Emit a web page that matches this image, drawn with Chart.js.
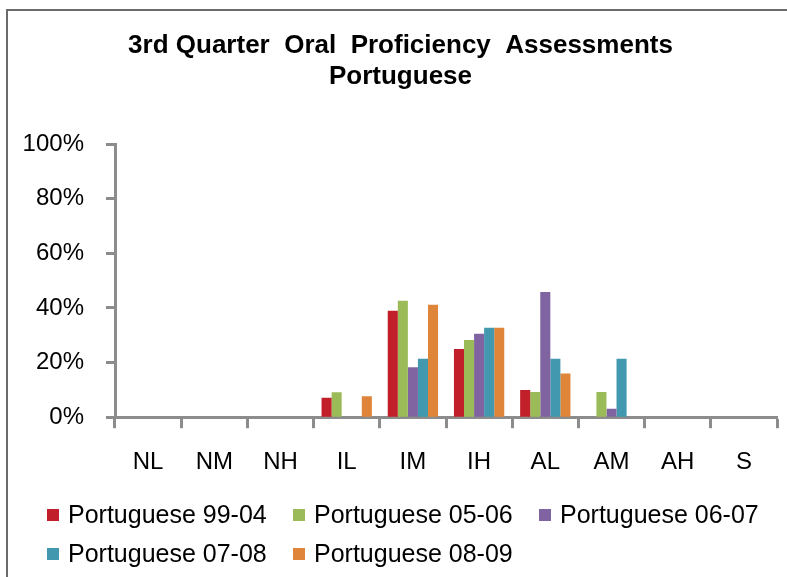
<!DOCTYPE html>
<html>
<head>
<meta charset="utf-8">
<script src="https://cdn.jsdelivr.net/npm/chart.js@4"></script>
<style>
    body { margin: 0; background: #fff; }
    #wrap { position: relative; width: 787px; height: 577px; overflow: hidden; }
    #frame {
        position: absolute; left: 6px; top: 9px; width: 820px; height: 620px;
        border-left: 2px solid #6b6b6b; border-top: 2px solid #6b6b6b;
    }
    #chart { position: absolute; left: 0; top: 0; }
    #legend {
        position: absolute; left: 47px; top: 502px;
        display: grid; grid-template-columns: 246px 246px 246px; grid-auto-rows: 39px;
        font-family: "Liberation Sans", Arial, sans-serif; font-size: 25px; color: #000;
    }
    #legend .item { display: flex; align-items: center; height: 25px; line-height: 25px; white-space: nowrap; }
    #legend .box { width: 12px; height: 12px; margin-right: 9px; flex: none; }
</style>
</head>
<body>
<div id="wrap">
    <div id="frame"></div>
    <canvas id="chart" width="787" height="577"></canvas>
    <div id="legend"></div>
</div>
<script>
    const categories = ['NL', 'NM', 'NH', 'IL', 'IM', 'IH', 'AL', 'AM', 'AH', 'S'];
    const seriesNames = ['Portuguese 99-04', 'Portuguese 05-06', 'Portuguese 06-07', 'Portuguese 07-08', 'Portuguese 08-09'];
    const port9904 = [0, 0, 0, 7.1, 39, 25, 10, 0, 0, 0];
    const port0506 = [0, 0, 0, 9.1, 42.6, 28.3, 9.2, 9.2, 0, 0];
    const port0607 = [0, 0, 0, 0, 18.3, 30.5, 45.8, 3.1, 0, 0];
    const port0708 = [0, 0, 0, 0, 21.4, 32.7, 21.4, 21.4, 0, 0];
    const port0809 = [0, 0, 0, 7.7, 41.2, 32.7, 16, 0, 0, 0];
    const yTicks = [0, 20, 40, 60, 80, 100];
    const colors = ['#c1202a', '#9bbb59', '#8064a2', '#4198af', '#de8539'];

    const seriesValues = [port9904, port0506, port0607, port0708, port0809];
    const font = "'Liberation Sans', Arial, sans-serif";
    const axisGray = '#8c8c8c';

    const chart = new Chart(document.getElementById('chart').getContext('2d'), {
        type: 'bar',
        data: {
            labels: categories,
            datasets: seriesValues.map((vals, i) => ({
                label: seriesNames[i],
                data: vals,
                backgroundColor: colors[i],
                borderWidth: 0,
                categoryPercentage: 0.76,
                barPercentage: 1
            }))
        },
        options: {
            responsive: false,
            animation: false,
            layout: { padding: { left: 24, right: 10, top: 0, bottom: 80 } },
            plugins: {
                legend: { display: false },
                tooltip: { enabled: false },
                title: {
                    display: true,
                    text: ['3rd Quarter  Oral  Proficiency  Assessments', 'Portuguese'],
                    color: '#000',
                    font: { family: font, size: 26, weight: 'bold', lineHeight: 1.2 },
                    padding: { top: 30, bottom: 51.6 }
                }
            },
            scales: {
                x: {
                    offset: true,
                    grid: {
                        offset: true,
                        drawOnChartArea: false,
                        drawTicks: true,
                        tickLength: 11,
                        tickWidth: 3,
                        tickColor: axisGray
                    },
                    border: { color: axisGray, width: 3 },
                    ticks: { color: '#000', padding: 20, font: { family: font, size: 24 } }
                },
                y: {
                    min: 0,
                    max: 100,
                    afterBuildTicks: (scale) => { scale.ticks = yTicks.map(v => ({ value: v })); },
                    afterFit: (scale) => { scale.width = 91; },
                    grid: {
                        drawOnChartArea: false,
                        drawTicks: true,
                        tickLength: 9,
                        tickWidth: 3,
                        tickColor: axisGray
                    },
                    border: { color: axisGray, width: 3 },
                    ticks: {
                        color: '#000',
                        padding: 22,
                        font: { family: font, size: 24 },
                        callback: (v) => v + '%'
                    }
                }
            }
        }
    });

    // HTML legend built from the datasets
    const legendEl = document.getElementById('legend');
    chart.data.datasets.forEach(ds => {
        const item = document.createElement('div');
        item.className = 'item';
        const box = document.createElement('span');
        box.className = 'box';
        box.style.background = ds.backgroundColor;
        item.appendChild(box);
        item.appendChild(document.createTextNode(ds.label));
        legendEl.appendChild(item);
    });
</script>
</body>
</html>
